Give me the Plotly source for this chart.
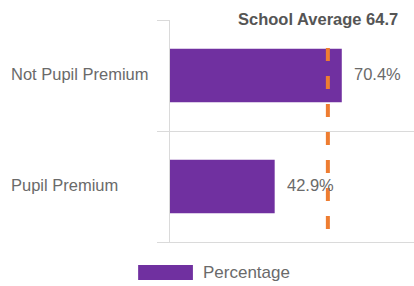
import plotly.graph_objects as go

categories = ["Not Pupil Premium", "Pupil Premium"]
values = [70.4, 42.9]
series_name = "Percentage"
school_average = 64.7
avg_label = "School Average"

PURPLE = "#7030A0"
ORANGE = "#EE7D31"
GRID = "#DADADA"
TEXT = "#6A6A6A"
FONT = "Arial, Liberation Sans, sans-serif"

fig = go.Figure()
fig.add_trace(go.Bar(
    x=values, y=categories, orientation="h", name=series_name,
    marker=dict(color=PURPLE, line=dict(width=0)),
    width=0.48, showlegend=False, hoverinfo="x+y",
))

# value labels
for c, v in zip(categories, values):
    fig.add_annotation(x=v, y=c, xref="x", yref="y", text=f"{v:.1f}%",
                       showarrow=False, xanchor="left", xshift=10, yshift=2,
                       font=dict(family=FONT, size=16.5, color=TEXT))

# category labels (left aligned)
for c in categories:
    fig.add_annotation(x=-0.661, y=c, xref="paper", yref="y", text=c,
                       showarrow=False, xanchor="left", yshift=2,
                       font=dict(family=FONT, size=16.5, color=TEXT))

# school average line
fig.add_shape(type="line", xref="x", yref="paper", x0=school_average, x1=school_average,
              y0=1, y1=0, line=dict(color=ORANGE, width=4, dash="13px,15px"), layer="above")
fig.add_annotation(x=(318 - 170) / 244, y=1, xref="paper", yref="paper",
                   text=f"<b>{avg_label} {school_average}</b>", showarrow=False,
                   xanchor="center", yanchor="middle", yshift=1, bgcolor="white", borderpad=8,
                   font=dict(family=FONT, size=16.5, color="#555555"))

# legend (manual, wide swatch)
fig.add_shape(type="rect", xref="paper", yref="paper", x0=-0.1306, x1=0.0939,
              y0=-0.104, y1=-0.171, fillcolor=PURPLE, line=dict(width=0))
fig.add_annotation(x=0.128, y=-0.138, xref="paper", yref="paper", text=series_name,
                   showarrow=False, xanchor="left", yanchor="middle",
                   font=dict(family=FONT, size=17, color=TEXT))

fig.update_layout(
    width=414, height=286,
    margin=dict(l=170, r=0, t=20, b=44),
    paper_bgcolor="white", plot_bgcolor="white",
    showlegend=False,
    bargap=0.5,
)
fig.update_xaxes(range=[0, 100], showticklabels=False, showgrid=False, zeroline=False,
                 showline=True, linecolor=GRID, linewidth=1, fixedrange=True)
fig.update_yaxes(type="category", categoryorder="array", categoryarray=categories[::-1],
                 tickson="boundaries", showgrid=True, gridcolor=GRID, gridwidth=1,
                 ticks="outside", ticklen=12, tickcolor=GRID, showticklabels=False,
                 showline=True, linecolor=GRID, linewidth=1, zeroline=False, fixedrange=True)

fig.write_html("out.html", config={"displayModeBar": False},
               post_script="document.body.style.margin='0';document.body.style.overflow='hidden';")
